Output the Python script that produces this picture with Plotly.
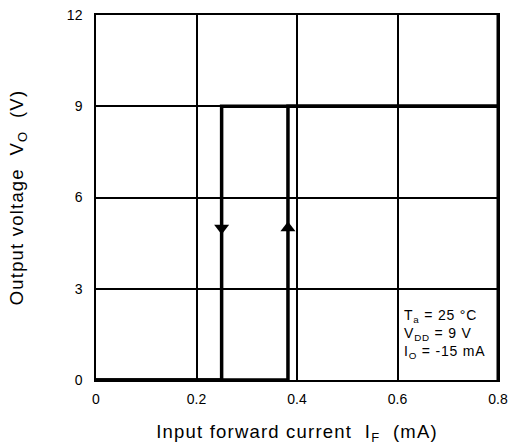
import plotly.graph_objects as go

# hysteresis path (IF in mA, VO in V)
rise_x = [0, 0.382, 0.382, 0.8]
rise_y = [0, 0, 9, 9]
fall_x = [0.8, 0.25, 0.25, 0]
fall_y = [9, 9, 0, 0]

# arrow heads along the vertical segments
arrow_x = [0.25, 0.382]
arrow_y = [5.0, 5.0]
arrow_sym = ["triangle-down", "triangle-up"]

x_ticks = [0, 0.2, 0.4, 0.6, 0.8]
x_labels = ["0", "0.2", "0.4", "0.6", "0.8"]
y_ticks = [0, 3, 6, 9, 12]

font = "Liberation Sans, Arial, sans-serif"
sp = '<span style="letter-spacing:{}px">{}</span>'

fig = go.Figure()
fig.add_trace(go.Scatter(x=rise_x, y=rise_y, mode="lines",
                         line=dict(color="black", width=3.5), hoverinfo="skip"))
fig.add_trace(go.Scatter(x=fall_x, y=fall_y, mode="lines",
                         line=dict(color="black", width=3.5), hoverinfo="skip"))
fig.add_trace(go.Scatter(x=arrow_x, y=arrow_y, mode="markers",
                         marker=dict(symbol=arrow_sym, size=13, color="black"),
                         hoverinfo="skip"))

# heavier right edge of the frame
fig.add_shape(type="line", xref="x", yref="y", x0=0.8, x1=0.8, y0=0, y1=12,
              line=dict(color="black", width=3))

fig.add_annotation(x=0.608, y=1.5, xref="x", yref="y", xanchor="left", yanchor="middle",
                   align="left", showarrow=False,
                   text=sp.format(0.8, "T<sub>a</sub> = 25 °C<br>V<sub>DD</sub> = 9 V<br>"
                                       "I<sub>O</sub> = -15 mA"),
                   font=dict(family=font, size=14, color="black"))

fig.update_layout(
    width=511, height=448,
    margin=dict(l=96, r=13, t=15, b=68, autoexpand=False),
    paper_bgcolor="white", plot_bgcolor="white",
    showlegend=False,
    font=dict(family=font, color="black"),
    xaxis=dict(range=[0, 0.8], tickvals=x_ticks, ticktext=x_labels,
               showgrid=True, gridcolor="black", gridwidth=1.5,
               showline=True, linecolor="black", linewidth=1.5, mirror=True,
               zeroline=False, ticks="outside", ticklen=5, tickcolor="white",
               tickfont=dict(size=14), automargin=False,
               title=dict(text=sp.format(1.2, "Input forward current  I<sub>F</sub>  (mA)"),
                          font=dict(size=18.5), standoff=20)),
    yaxis=dict(range=[0, 12], tickvals=y_ticks,
               showgrid=True, gridcolor="black", gridwidth=1.5,
               showline=True, linecolor="black", linewidth=1.5, mirror=True,
               zeroline=False, ticks="outside", ticklen=9, tickcolor="white",
               tickfont=dict(size=14), automargin=False,
               title=dict(text=sp.format(1.2, "Output voltage  V<sub>O</sub>  (V)"),
                          font=dict(size=18.5), standoff=38)),
)

fig.write_html("out.html", config={"displayModeBar": False},
               post_script="document.body.style.margin='0';")
